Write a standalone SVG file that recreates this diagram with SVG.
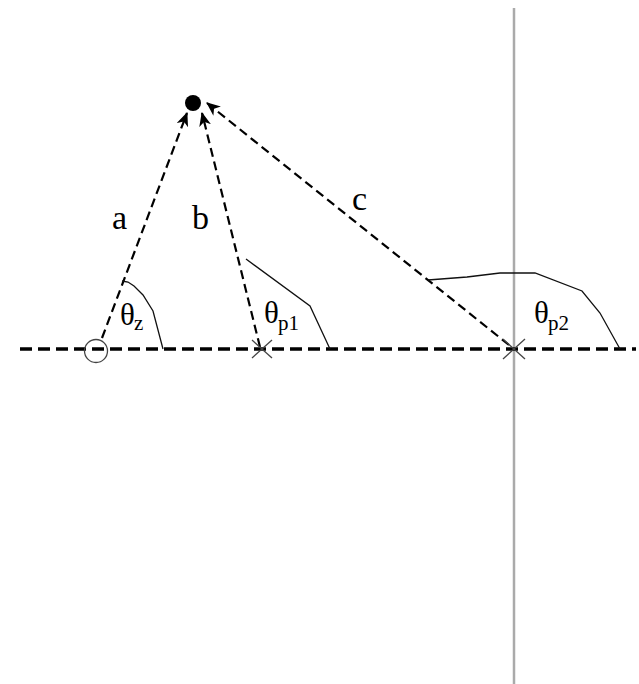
<svg xmlns="http://www.w3.org/2000/svg" width="639" height="684" viewBox="0 0 639 684">
<style>
.axis{stroke:#000;stroke-width:3.5;stroke-dasharray:12 6;fill:none}
.vec{stroke:#000;stroke-width:2.2;stroke-dasharray:9 5;fill:none}
.arc{stroke:#111;stroke-width:1.3;fill:none}
.mark{stroke:#444;stroke-width:1.3;fill:none}
.lbl{font-family:"Liberation Serif","Times New Roman",serif;font-size:34px;fill:#000}
.th{font-family:"Liberation Serif","Times New Roman",serif;font-size:31px;fill:#000}
.sub{font-family:"Liberation Serif","Times New Roman",serif;font-size:21px;fill:#000}
</style>
<defs>
<marker id="ah" viewBox="0 0 14 12" refX="13" refY="6" markerWidth="14" markerHeight="12" markerUnits="userSpaceOnUse" orient="auto">
<path d="M0,0 L14,6 L0,12 L4,6 z" fill="#000"/>
</marker>
</defs>
<rect width="639" height="684" fill="#fff"/>
<g id="imag-axis">
<line x1="514" y1="8" x2="514" y2="684" stroke="#aaa" stroke-width="2.5"/>
</g>
<g id="real-axis">
<line class="axis" x1="20" y1="349" x2="636" y2="349"/>
</g>
<g id="connectors">
<line class="vec" x1="102" y1="338" x2="187" y2="113" marker-end="url(#ah)"/>
<line class="vec" x1="260" y1="347" x2="202" y2="113" marker-end="url(#ah)"/>
<line class="vec" x1="509" y1="345" x2="207" y2="103" marker-end="url(#ah)"/>
</g>
<g id="point">
<circle cx="193" cy="103" r="8" fill="#000"/>
</g>
<g id="zero">
<circle class="mark" cx="96" cy="351" r="11.5"/>
</g>
<g id="pole1">
<line class="mark" x1="252" y1="340" x2="272" y2="358"/>
<line class="mark" x1="272" y1="340" x2="252" y2="358"/>
</g>
<g id="pole2">
<line class="mark" x1="503" y1="339" x2="525" y2="359"/>
<line class="mark" x1="525" y1="339" x2="503" y2="359"/>
</g>
<g id="angle-z">
<polyline class="arc" points="122,281 128,282 134,286 143,295 153,311 163,349"/>
<text class="th" x="120" y="325">θ</text><text class="sub" x="134" y="330">z</text>
</g>
<g id="angle-p1">
<polyline class="arc" points="246,259 310,306 330,349"/>
<text class="th" x="264" y="323">θ</text><text class="sub" x="278" y="330">p1</text>
</g>
<g id="angle-p2">
<polyline class="arc" points="428,280 467,277 500,273 535,273 582,291 600,313 620,349"/>
<text class="th" x="534" y="323">θ</text><text class="sub" x="548" y="330">p2</text>
</g>
<g id="labels">
<text class="lbl" x="112" y="229">a</text>
<text class="lbl" x="192" y="229">b</text>
<text class="lbl" x="352" y="210">c</text>
</g>
</svg>
